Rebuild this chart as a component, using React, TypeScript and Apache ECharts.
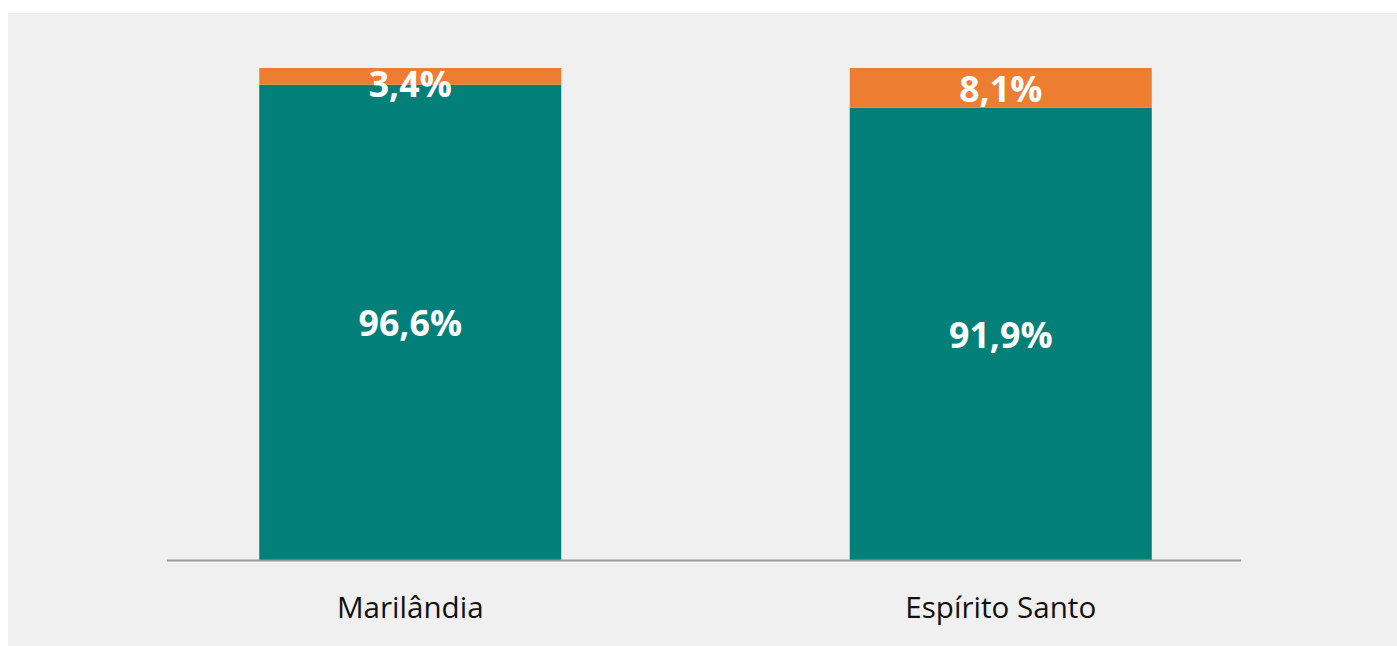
import React, { useEffect, useRef } from "react";
import * as echarts from "echarts";

const categories = ["Marilândia", "Espírito Santo"];
const seriesNames = ["Principal", "Outros"];
const teal = [96.6, 91.9];
const orange = [3.4, 8.1];

function fmt(v: number) {
  return v.toFixed(1).replace(".", ",") + "%";
}

export default function App() {
  const ref = useRef<HTMLDivElement>(null);
  useEffect(() => {
    if (!ref.current) return;
    const chart = echarts.init(ref.current, null, { renderer: "svg" });
    const labelBase = {
      show: true,
      position: "inside" as const,
      color: "#ffffff",
      fontFamily: "Open Sans",
      fontWeight: "bold" as const,
      fontSize: 35.7,
      formatter: (p: any) => fmt(p.value),
    };
    chart.setOption({
      animation: false,
      backgroundColor: "#f0f0f0",
      grid: { left: 107, right: 101, top: 55, bottom: 86 },
      xAxis: {
        type: "category",
        data: categories,
        axisLine: { show: false },
        axisTick: { show: false },
        axisLabel: {
          color: "#111111",
          fontFamily: "Open Sans",
          fontSize: 29.6,
          margin: 31,
        },
      },
      yAxis: {
        type: "value",
        min: 0,
        max: 100,
        show: false,
        splitLine: { show: false },
      },
      series: [
        {
          name: seriesNames[0],
          type: "bar",
          stack: "total",
          barWidth: 302,
          itemStyle: { color: "#037f7a" },
          label: labelBase,
          data: teal,
        },
        {
          name: seriesNames[1],
          type: "bar",
          stack: "total",
          barWidth: 302,
          itemStyle: { color: "#ed7d31" },
          label: labelBase,
          data: orange.map((v, i) =>
            i === 0 ? { value: v, label: { offset: [0, 7] } } : v
          ),
        },
      ],
      graphic: [
        {
          type: "line",
          z: 100,
          shape: { x1: 159, y1: 547.5, x2: 1233, y2: 547.5 },
          style: { stroke: "#999999", lineWidth: 2 },
        },
      ],
    });
    return () => chart.dispose();
  }, []);
  return (
    <div
      ref={ref}
      style={{ position: "absolute", left: 8, top: 13, width: 1389, height: 633 }}
    />
  );
}
